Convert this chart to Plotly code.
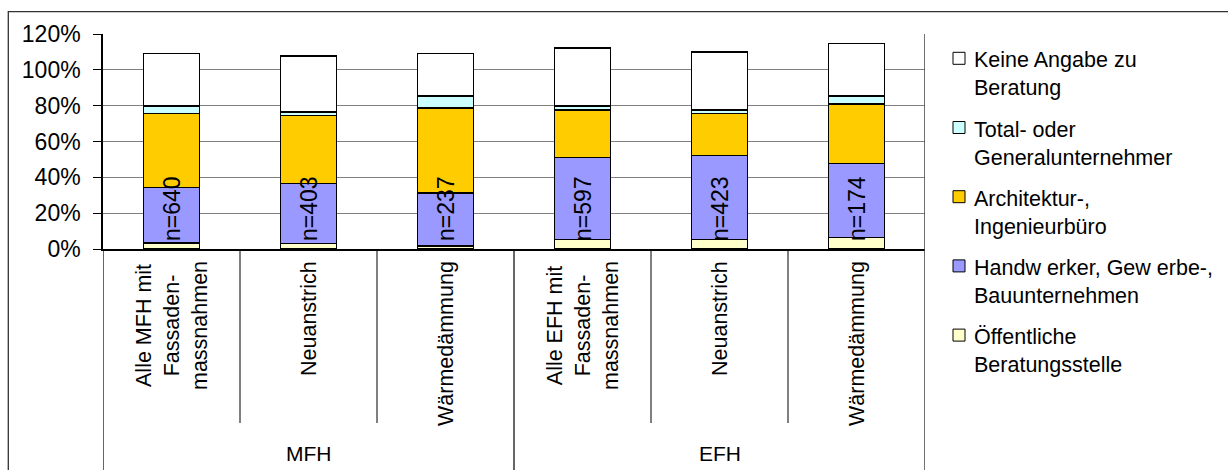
import plotly.graph_objects as go

# --- data -------------------------------------------------------------
categories = [
    "Alle MFH mit\nFassaden-\nmassnahmen", "Neuanstrich", "Wärmedämmung",
    "Alle EFH mit\nFassaden-\nmassnahmen", "Neuanstrich", "Wärmedämmung",
]
groups = ["MFH", "EFH"]
group_members = [[0, 1, 2], [3, 4, 5]]
sample_sizes = [640, 403, 237, 597, 423, 174]

series_names = [
    "Öffentliche\nBeratungsstelle",
    "Handw erker, Gew erbe-,\nBauunternehmen",
    "Architektur-,\nIngenieurbüro",
    "Total- oder\nGeneralunternehmer",
    "Keine Angabe zu\nBeratung",
]
series_colors = ["#FFFFCC", "#9999FF", "#FFCC00", "#CCFFFF", "#FFFFFF"]

# shares in percent, stacked bottom to top
oeffentliche = [3.3, 3.1, 1.8, 5.3, 5.3, 6.3]
handwerker = [31.0, 33.4, 29.4, 45.7, 47.0, 41.3]
architektur = [41.2, 38.1, 47.6, 26.5, 23.2, 33.4]
totalunternehmer = [4.2, 2.0, 6.7, 2.2, 2.0, 4.3]
keine_angabe = [29.4, 31.1, 23.6, 32.5, 32.5, 29.3]
series_values = [oeffentliche, handwerker, architektur, totalunternehmer, keine_angabe]

y_ticks = [0, 20, 40, 60, 80, 100, 120]

# --- layout geometry (pixels) -----------------------------------------
W, H = 1228, 470
L, R, T, B = 103, 925, 34, 249
FONT = "Liberation Sans, Arial, sans-serif"


def px_x(px):
    return (px - L) / (R - L)


def px_y(py):
    return (B - py) / (B - T)


xs = list(range(len(categories)))

fig = go.Figure()
for name, color, vals in zip(series_names, series_colors, series_values):
    fig.add_trace(go.Bar(
        x=xs, y=vals, name=name.replace("\n", " "),
        width=0.41,
        marker=dict(color=color, line=dict(color="#000000", width=1.5)),
        showlegend=False,
    ))

annotations = []
shapes = []

# sample size labels inside the bars
for x, n in zip(xs, sample_sizes):
    annotations.append(dict(
        x=x, y=0, xref="x", yref="y", text=f"n={n}", showarrow=False,
        textangle=-90, xanchor="center", yanchor="bottom", yshift=6,
        font=dict(family=FONT, size=23, color="#000000"),
    ))

# category labels below the axis
for x, cat in zip(xs, categories):
    annotations.append(dict(
        x=x, y=px_y(259), xref="x", yref="paper",
        text=cat.replace("\n", "<br>"), showarrow=False,
        textangle=-90, xanchor="center", yanchor="top", align="center",
        font=dict(family=FONT, size=21.5, color="#000000"),
    ))

# group labels
for g, members in zip(groups, group_members):
    annotations.append(dict(
        x=sum(members) / len(members), y=px_y(453), xref="x", yref="paper",
        text=g, showarrow=False, xanchor="center", yanchor="middle",
        font=dict(family=FONT, size=21, color="#000000"),
    ))

# category dividers
for xd in [0.5, 1.5, 3.5, 4.5]:
    shapes.append(dict(type="line", xref="x", yref="paper", x0=xd, x1=xd,
                       y0=0, y1=px_y(423), line=dict(color="#000000", width=1)))
for xd in [-0.5, 2.5]:
    shapes.append(dict(type="line", xref="x", yref="paper", x0=xd, x1=xd,
                       y0=px_y(480), y1=0, line=dict(color="#000000", width=1.2)))
shapes.append(dict(type="line", xref="x", yref="paper", x0=5.5, x1=5.5,
                   y0=px_y(480), y1=1, line=dict(color="#404040", width=1.5)))

# outer frame
shapes.append(dict(type="rect", xref="paper", yref="paper",
                   x0=px_x(8.3), x1=px_x(1250), y0=px_y(490), y1=px_y(11.7),
                   line=dict(color="#333333", width=1.3), layer="below"))

# legend, top entry first
for j, k in enumerate(reversed(range(len(series_names)))):
    cy = 58.3 + 69.2 * j
    shapes.append(dict(type="rect", xref="paper", yref="paper",
                       x0=px_x(953), x1=px_x(965), y0=px_y(cy + 6), y1=px_y(cy - 6),
                       fillcolor=series_colors[k], line=dict(color="#000000", width=1)))
    annotations.append(dict(
        x=px_x(972), y=px_y(cy - 12), xref="paper", yref="paper",
        text=series_names[k].replace("\n", "<br>"), showarrow=False,
        xanchor="left", yanchor="top", align="left",
        font=dict(family=FONT, size=21.5, color="#000000"),
    ))

fig.update_layout(
    width=W, height=H,
    margin=dict(l=L, r=W - R, t=T, b=H - B, pad=0),
    barmode="stack", bargap=0.59,
    paper_bgcolor="#FFFFFF", plot_bgcolor="#FFFFFF",
    font=dict(family=FONT, size=21.5, color="#000000"),
    annotations=annotations, shapes=shapes,
)
fig.update_xaxes(
    range=[-0.5, 5.5], showticklabels=False, ticks="", showgrid=False,
    showline=True, linecolor="#000000", linewidth=1.5, zeroline=False,
)
fig.update_yaxes(
    range=[0, 120], tickvals=y_ticks, ticktext=[f"{v}%" for v in y_ticks],
    ticks="outside", ticklen=8, tickcolor="#000000", tickwidth=1,
    ticklabelstandoff=8,
    tickfont=dict(family=FONT, size=23, color="#000000"),
    showgrid=True, gridcolor="#808080", gridwidth=1,
    showline=True, linecolor="#000000", linewidth=1.5, zeroline=False,
)

fig.write_html("out.html")
